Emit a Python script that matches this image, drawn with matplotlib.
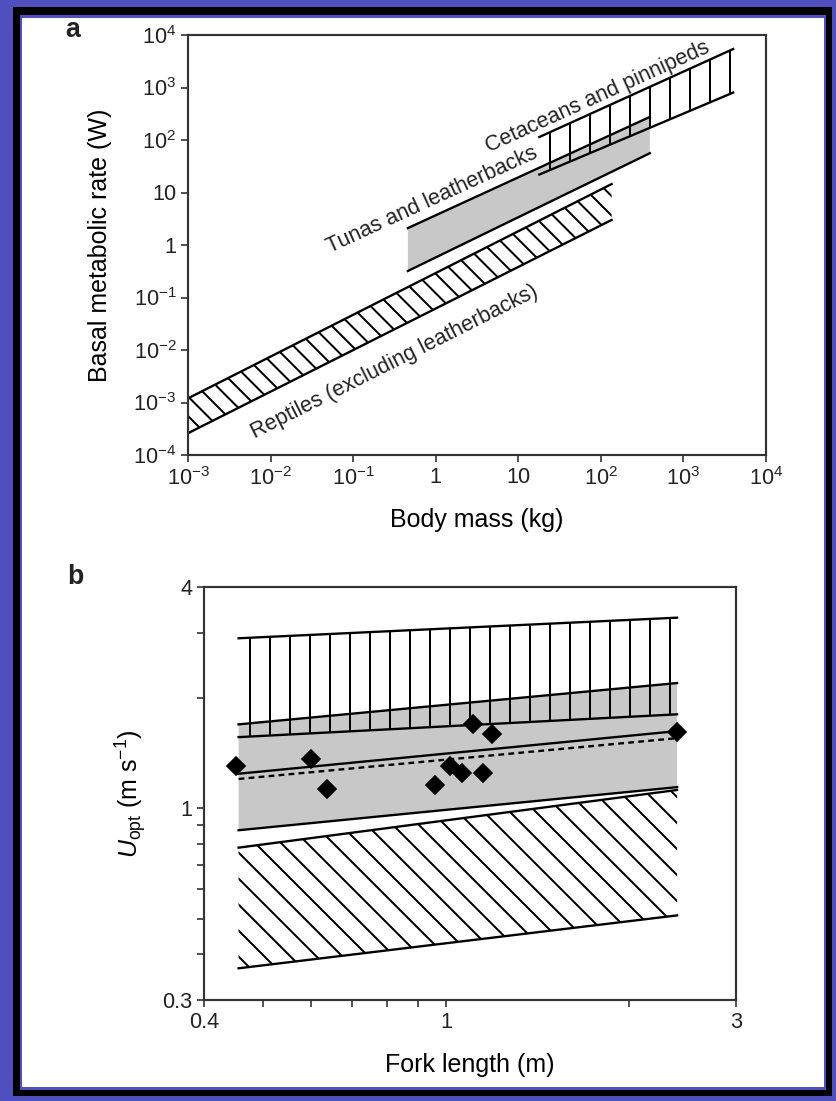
import numpy as np
import matplotlib
matplotlib.use('Agg')
import matplotlib.pyplot as plt
from matplotlib.patches import Rectangle
from matplotlib.collections import LineCollection
from matplotlib.transforms import IdentityTransform
from matplotlib.ticker import FixedLocator, FixedFormatter, NullFormatter

plt.rcParams['font.family'] = ['Liberation Sans', 'DejaVu Sans']
plt.rcParams['mathtext.fontset'] = 'custom'
plt.rcParams['mathtext.rm'] = 'Liberation Sans'
plt.rcParams['mathtext.it'] = 'Liberation Sans:italic'
plt.rcParams['hatch.linewidth'] = 1.2
plt.rcParams['text.color'] = '#222222'

# ---- panel a: allometric bands (body mass in kg, basal metabolic rate in W) ----
reptile_mass = [1e-3, 135]
reptile_upper = [1.2e-3, 14.5]
reptile_lower = [2.6e-4, 3.0]
tuna_mass = [0.46, 392]
tuna_upper = [2.1, 275]
tuna_lower = [0.32, 56]
cet_mass = [18, 4000]
cet_upper = [114, 5400]
cet_lower = [22, 800]

a_xticks = [1e-3, 1e-2, 1e-1, 1, 10, 1e2, 1e3, 1e4]
a_xlabels = ['$10^{-3}$', '$10^{-2}$', '$10^{-1}$', '1', '10', '$10^{2}$', '$10^{3}$', '$10^{4}$']
a_yticks = [1e-4, 1e-3, 1e-2, 1e-1, 1, 10, 1e2, 1e3, 1e4]
a_ylabels = ['$10^{-4}$', '$10^{-3}$', '$10^{-2}$', '$10^{-1}$', '1', '10', '$10^{2}$', '$10^{3}$', '$10^{4}$']

# ---- panel b: optimal swimming speed vs fork length ----
fork = [0.456, 2.4]
vhatch_top = [2.9, 3.3]
vhatch_bot = [1.56, 1.80]
gray_top = [1.69, 2.19]
gray_bot = [0.87, 1.14]
diag_top = [0.78, 1.12]
diag_bot = [0.366, 0.51]
fit_solid = [1.24, 1.62]
fit_dashed = [1.20, 1.55]
fish_length = [0.452, 0.600, 0.638, 0.959, 1.016, 1.063, 1.151, 1.108, 1.19, 2.40]
fish_speed = [1.30, 1.36, 1.13, 1.155, 1.30, 1.245, 1.245, 1.69, 1.59, 1.61]

b_xticks = [0.4, 1, 3]
b_xminor = [0.5, 0.6, 0.7, 0.8, 0.9, 2]
b_yticks = [0.3, 1, 4]
b_yminor = [0.4, 0.5, 0.6, 0.7, 0.8, 0.9, 2, 3]

W, H, dpi = 836, 1101, 120
fig = plt.figure(figsize=(W / dpi, H / dpi), dpi=dpi, facecolor='#4f4fc0')


def box(l, t, r, b):
    return [l / W, 1 - b / H, (r - l) / W, (b - t) / H]


# slide frame: black border, thin blue line, white page
for (l, t, r, b), c in [((13, 7, 832, 1096), 'black'),
                        ((20, 15, 826, 1090), '#4f4fc0'),
                        ((22, 18, 824, 1087), 'white')]:
    x, y, w, h = box(l, t, r, b)
    fig.add_artist(Rectangle((x, y), w, h, transform=fig.transFigure,
                             facecolor=c, edgecolor='none', zorder=0))


def style(ax):
    for s in ax.spines.values():
        s.set_color('#333333')
        s.set_linewidth(1.3)
    ax.tick_params(which='both', direction='out', length=4, width=1,
                   colors='#333333', labelcolor='#222222', labelsize=13, pad=3)


def angle(ax, xs, ys):
    p = ax.transData.transform(np.column_stack([xs, ys]))
    return np.degrees(np.arctan2(p[1, 1] - p[0, 1], p[1, 0] - p[0, 0]))


def diag_hatch(ax, band, step):
    # 45-degree "\" hatch lines in pixel space, clipped to the band polygon
    x0, y0, x1, y1 = ax.bbox.extents
    cs = np.arange(x0 + y0, x1 + y1 + step, step)
    segs = [[(c - y1, y1), (c - y0, y0)] for c in cs]
    lc = LineCollection(segs, colors='black', linewidths=1.2,
                        transform=IdentityTransform())
    ax.add_artist(lc)
    lc.set_clip_path(band.get_paths()[0], band.get_transform())


# ---------------- panel a ----------------
ax = fig.add_axes(box(188, 35, 766, 455))
ax.set_xscale('log')
ax.set_yscale('log')
ax.set_xlim(1e-3, 1e4)
ax.set_ylim(1e-4, 1e4)
style(ax)
ax.xaxis.set_major_locator(FixedLocator(a_xticks))
ax.xaxis.set_major_formatter(FixedFormatter(a_xlabels))
ax.yaxis.set_major_locator(FixedLocator(a_yticks))
ax.yaxis.set_major_formatter(FixedFormatter(a_ylabels))
ax.xaxis.set_minor_locator(FixedLocator([]))
ax.yaxis.set_minor_locator(FixedLocator([]))

ax.fill_between(tuna_mass, tuna_lower, tuna_upper, facecolor='#c8c8c8', lw=0)
rep = ax.fill_between(reptile_mass, reptile_lower, reptile_upper, facecolor='none', lw=0)
diag_hatch(ax, rep, 19.5)
ax.fill_between(cet_mass, cet_lower, cet_upper, facecolor='none',
                edgecolor='black', hatch='|', lw=0)
for xs, ys in [(reptile_mass, reptile_upper), (reptile_mass, reptile_lower),
               (tuna_mass, tuna_upper), (tuna_mass, tuna_lower),
               (cet_mass, cet_upper), (cet_mass, cet_lower)]:
    ax.plot(xs, ys, color='black', lw=1.4)

ax.text(92, 660, 'Cetaceans and pinnipeds', fontsize=13, ha='center', va='center',
        rotation=angle(ax, cet_mass, cet_upper), rotation_mode='anchor')
ax.text(0.9, 7.2, 'Tunas and leatherbacks', fontsize=13, ha='center', va='center',
        rotation=angle(ax, tuna_mass, tuna_upper), rotation_mode='anchor')
ax.text(0.32, 5.9e-3, 'Reptiles (excluding leatherbacks)', fontsize=13, ha='center',
        va='center', rotation=angle(ax, reptile_mass, reptile_lower), rotation_mode='anchor')

ax.set_xlabel('Body mass (kg)', fontsize=15)
ax.set_ylabel('Basal metabolic rate (W)', fontsize=15)
ax.xaxis.set_label_coords(0.5, -0.126)
ax.yaxis.set_label_coords(-0.131, 0.5)
fig.text(73 / W, 1 - 30 / H, 'a', fontsize=16, fontweight='bold', va='center', ha='center')

# ---------------- panel b ----------------
bx = fig.add_axes(box(204, 587, 736, 1000))
bx.set_xscale('log')
bx.set_yscale('log')
bx.set_xlim(0.4, 3)
bx.set_ylim(0.3, 4)
style(bx)
bx.xaxis.set_major_locator(FixedLocator(b_xticks))
bx.xaxis.set_major_formatter(FixedFormatter(['0.4', '1', '3']))
bx.xaxis.set_minor_locator(FixedLocator(b_xminor))
bx.xaxis.set_minor_formatter(NullFormatter())
bx.yaxis.set_major_locator(FixedLocator(b_yticks))
bx.yaxis.set_major_formatter(FixedFormatter(['0.3', '1', '4']))
bx.yaxis.set_minor_locator(FixedLocator(b_yminor))
bx.yaxis.set_minor_formatter(NullFormatter())

bx.fill_between(fork, gray_bot, gray_top, facecolor='#c8c8c8', lw=0)
bx.fill_between(fork, vhatch_bot, vhatch_top, facecolor='none', edgecolor='black',
                hatch='|', lw=0)
low = bx.fill_between(fork, diag_bot, diag_top, facecolor='none', lw=0)
diag_hatch(bx, low, 26)
for ys in [vhatch_top, vhatch_bot, gray_top, gray_bot, diag_top, diag_bot, fit_solid]:
    bx.plot(fork, ys, color='black', lw=1.4)
bx.plot(fork, fit_dashed, color='black', lw=1.4, ls=(0, (2.5, 1.8)))
bx.plot(fish_length, fish_speed, 'D', color='black', ms=8, zorder=5)

bx.set_xlabel('Fork length (m)', fontsize=15)
bx.set_ylabel(r'$\mathit{U}_{\rm opt}$ (m s$^{-1}$)', fontsize=15)
bx.xaxis.set_label_coords(0.5, -0.128)
bx.yaxis.set_label_coords(-0.103, 0.5)
fig.text(75 / W, 1 - 577 / H, 'b', fontsize=16, fontweight='bold', va='center', ha='center')

fig.savefig('out.png', dpi=dpi, facecolor=fig.get_facecolor())
